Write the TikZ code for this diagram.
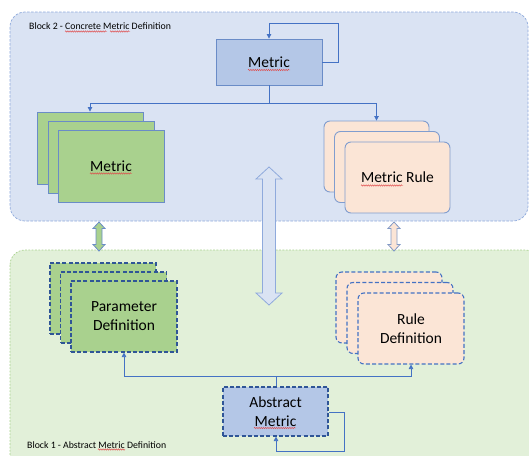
\documentclass[tikz,border=0pt]{standalone}
\usepackage{fontspec}
\setmainfont{Carlito}
\usetikzlibrary{arrows.meta,decorations.pathmorphing}

\definecolor{blkblue}{HTML}{DAE3F3}
\definecolor{blkblueline}{HTML}{8FAADC}
\definecolor{blkgreen}{HTML}{E2F0D9}
\definecolor{blkgreenline}{HTML}{A9D18E}
\definecolor{boxblue}{HTML}{B4C7E7}
\definecolor{boxgreen}{HTML}{A9D18E}
\definecolor{boxpeach}{HTML}{FBE5D6}
\definecolor{edgeblue}{HTML}{6A8CC7}
\definecolor{darkblue}{HTML}{2F5597}
\definecolor{wireblue}{HTML}{4472C4}
\definecolor{squiggle}{HTML}{E04848}

\tikzset{
  block/.style={rounded corners=15pt, line width=0.7pt},
  blocktitle/.style={font=\fontsize{9.8}{11}\selectfont, anchor=west, inner sep=0pt},
  card/.style={draw=edgeblue, line width=0.9pt, minimum width=106pt, minimum height=72pt,
    inner sep=0pt, align=center, font=\fontsize{15.5}{19}\selectfont},
  solidcard/.style={card},
  dashcard/.style={card, draw=darkblue, line width=1.1pt, dash pattern=on 4pt off 2.2pt},
  softcard/.style={card, draw=wireblue, line width=1.1pt, dash pattern=on 4pt off 2.2pt, rounded corners=6pt},
  wire/.style={draw=wireblue, line width=0.8pt},
  tip/.style={-{Triangle[length=4.5pt,width=4.5pt]}},
  fatarrow/.style={line width=0.8pt, line join=miter},
  spell/.style={draw=squiggle, line width=0.45pt,
    decorate, decoration={snake, amplitude=0.7pt, segment length=2.2pt}},
}

\begin{document}
\begin{tikzpicture}[x=1pt, y=-1pt]
\useasboundingbox (0,0) rectangle (529,455);
\clip (0,0) rectangle (529,455);

% the two background blocks
\path[block, fill=blkblue, draw=blkblueline, dash pattern=on 2.5pt off 1.5pt]
  (10,12) rectangle (528,221);
\path[block, fill=blkgreen, draw=blkgreenline, dash pattern=on 1.8pt off 1.5pt]
  (10,250) rectangle (540,470);
\node[blocktitle] (t2) at (29,26) {Block 2 - Concrete Metric Definition};
\node[blocktitle] (t1) at (27,445) {Block 1 - Abstract Metric Definition};

% Block 2: metric with its concrete metrics and rules
\node[solidcard, fill=boxblue, minimum height=46pt] (metric) at (269,62) {Metric};

\node[solidcard, fill=boxgreen] (cm1) at (90,148) {};
\node[solidcard, fill=boxgreen] (cm2) at (101,157) {};
\node[solidcard, fill=boxgreen] (cm3) at (111,166) {Metric};

\node[solidcard, fill=boxpeach, draw=edgeblue!85, rounded corners=6pt, minimum width=105pt, minimum height=71pt] (mr1) at (376.5,156.5) {};
\node[solidcard, fill=boxpeach, draw=edgeblue!85, rounded corners=6pt, minimum width=105pt, minimum height=71pt] (mr2) at (387,167) {};
\node[solidcard, fill=boxpeach, draw=edgeblue!85, rounded corners=6pt, minimum width=105pt, minimum height=71pt] (mr3) at (397.5,177.5) {Metric Rule};

% Block 1: abstract metric with parameter and rule definitions
\node[dashcard, fill=boxgreen, minimum height=71pt] (pd1) at (103,298.5) {};
\node[dashcard, fill=boxgreen, minimum height=71pt] (pd2) at (113.5,307.5) {};
\node[dashcard, fill=boxgreen, minimum height=71pt] (pd3) at (124,316.5) {Parameter\\Definition};

\node[softcard, fill=boxpeach, minimum height=71pt] (rd1) at (389,307.5) {};
\node[softcard, fill=boxpeach, minimum height=71pt] (rd2) at (400,318) {};
\node[softcard, fill=boxpeach, minimum height=71pt] (rd3) at (411,328.5) {Rule\\Definition};

\node[dashcard, fill=boxblue, minimum width=105pt, minimum height=49pt] (abs) at (275.5,411.5) {Abstract\\Metric};

% junction points of the connectors
\coordinate (mloopa) at (338,62);
\coordinate (mloopb) at (338,23);
\coordinate (msplit) at (269,103);
\coordinate (aloopa) at (344,412);
\coordinate (aloopb) at (344,451);
\coordinate (asplit) at (276,376);

% metric: self loop and split to the concrete cards
\draw[wire, tip] (metric.east |- mloopa) -- (mloopa) -- (mloopb) -- (metric.north |- mloopb) -- (metric.north);
\draw[wire] (metric.south) -- (msplit);
\draw[wire, tip] (msplit) -| (cm1.north);
\draw[wire, tip] (msplit) -| (mr1.north);

% abstract metric: self loop and split to the definitions
\draw[wire, tip] (abs.east |- aloopa) -- (aloopa) -- (aloopb) -- (asplit |- aloopb) -- (asplit |- abs.south);
\draw[wire] (asplit |- abs.north) -- (asplit);
\draw[wire, tip] (asplit) -| (pd3.south);
\draw[wire, tip] (asplit) -| (rd3.south);

% wide double arrows between the blocks
\coordinate (bigtop) at (269,167);
\coordinate (bigbot) at (269,305);
\filldraw[fatarrow, fill=blkblue, draw=blkblueline]
  (bigtop) -- (282,179) -- (275.5,179) -- (275.5,293) -- (282,293) -- (bigbot)
  -- (256,293) -- (262.5,293) -- (262.5,179) -- (256,179) -- cycle;

\coordinate (gtop) at (99,222);
\coordinate (gbot) at (99,251);
\filldraw[fatarrow, fill=boxgreen, draw=edgeblue]
  (gtop) -- (105,228.5) -- (102,228.5) -- (102,244.5) -- (105,244.5) -- (gbot)
  -- (93,244.5) -- (96,244.5) -- (96,228.5) -- (93,228.5) -- cycle;

\coordinate (ptop) at (394,222);
\coordinate (pbot) at (394,251);
\filldraw[fatarrow, fill=boxpeach, draw=blkblueline!90!black]
  (ptop) -- (400,228.5) -- (397,228.5) -- (397,244.5) -- (400,244.5) -- (pbot)
  -- (388,244.5) -- (391,244.5) -- (391,228.5) -- (388,228.5) -- cycle;

% spell-check marks under the flagged words
\draw[spell] (65,31.5) -- (107,31.5);
\draw[spell] (110,31.5) -- (130,31.5);
\draw[spell] (248,70) -- (290,70);
\draw[spell] (90,173.5) -- (132,173.5);
\draw[spell] (361,185.5) -- (403,185.5);
\draw[spell] (254,428) -- (296,428);
\draw[spell] (98,449.5) -- (125,449.5);
\end{tikzpicture}
\end{document}
